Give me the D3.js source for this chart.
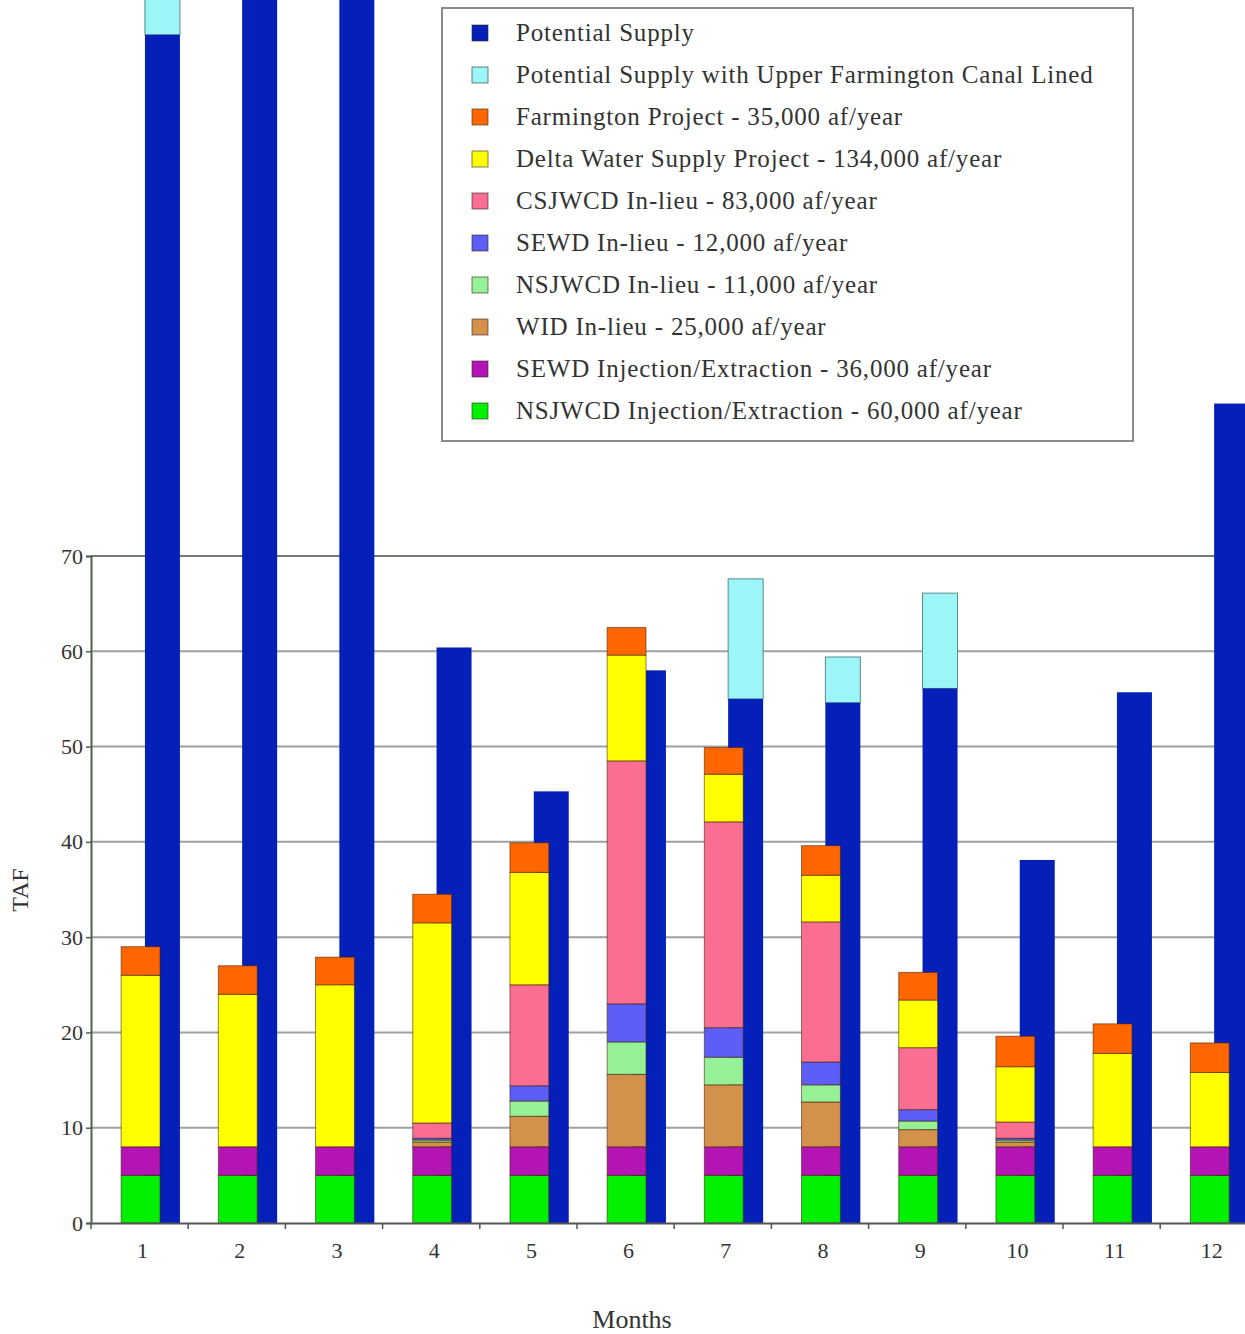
<!DOCTYPE html>
<html>
<head>
<meta charset="utf-8">
<script src="https://cdn.jsdelivr.net/npm/d3@7"></script>
<style>
  body { margin: 0; background: #fff; }
  svg { display: block; font-family: "Liberation Serif", "Times New Roman", serif; }
</style>
</head>
<body>
<div id="chart"></div>
<script>
// months on the x axis
const months = ["1", "2", "3", "4", "5", "6", "7", "8", "9", "10", "11", "12"];

// supply bars (TAF)
const potentialSupply = [124.7, 140, 138, 60.4, 45.3, 58.0, 55.0, 54.6, 56.1, 38.1, 55.7, 86.0];
const canalLinedExtra = [8, 0, 0, 0, 0, 0, 12.6, 4.8, 10.0, 0, 0, 0];

// stacked demand series, bottom to top (TAF)
const nsjwcdInjection = [5, 5, 5, 5, 5, 5, 5, 5, 5, 5, 5, 5];
const sewdInjection   = [3, 3, 3, 3, 3, 3, 3, 3, 3, 3, 3, 3];
const widInLieu       = [0, 0, 0, 0.5, 3.2, 7.6, 6.5, 4.7, 1.8, 0.5, 0, 0];
const nsjwcdInLieu    = [0, 0, 0, 0.2, 1.6, 3.4, 2.9, 1.8, 0.9, 0.2, 0, 0];
const sewdInLieu      = [0, 0, 0, 0.2, 1.6, 4.0, 3.1, 2.4, 1.2, 0.2, 0, 0];
const csjwcdInLieu    = [0, 0, 0, 1.6, 10.6, 25.5, 21.6, 14.7, 6.5, 1.7, 0, 0];
const deltaWater      = [18, 16, 17, 21.0, 11.8, 11.1, 5.0, 4.9, 5.0, 5.8, 9.8, 7.8];
const farmington      = [3, 3, 2.9, 3.0, 3.1, 2.9, 2.8, 3.1, 2.9, 3.2, 3.1, 3.1];

const yTicks = [0, 10, 20, 30, 40, 50, 60, 70];

const stackSeries = [
  { name: "NSJWCD Injection/Extraction - 60,000 af/year", values: nsjwcdInjection, color: "#00f000" },
  { name: "SEWD Injection/Extraction - 36,000 af/year", values: sewdInjection, color: "#b414b4" },
  { name: "WID In-lieu - 25,000 af/year", values: widInLieu, color: "#d4914c" },
  { name: "NSJWCD In-lieu - 11,000 af/year", values: nsjwcdInLieu, color: "#96f096" },
  { name: "SEWD In-lieu - 12,000 af/year", values: sewdInLieu, color: "#5e5ef6" },
  { name: "CSJWCD In-lieu - 83,000 af/year", values: csjwcdInLieu, color: "#fa6e92" },
  { name: "Delta Water Supply Project - 134,000 af/year", values: deltaWater, color: "#ffff00" },
  { name: "Farmington Project - 35,000 af/year", values: farmington, color: "#ff6600" }
];

const supplyColor = "#0520b8";
const linedColor = "#9cf6f8";

const legendItems = [
  { name: "Potential Supply", color: supplyColor },
  { name: "Potential Supply with Upper Farmington Canal Lined", color: linedColor }
].concat(stackSeries.slice().reverse());

const W = 1245, H = 1334;
const svg = d3.select("#chart").append("svg")
  .attr("width", W)
  .attr("height", H);

// scales
const x = d3.scaleBand().domain(months).range([91, 1257.4]).padding(0);
const y = d3.scaleLinear().domain([0, 70]).range([1223, 556]);
const bw = x.bandwidth();

svg.append("defs").append("clipPath").attr("id", "plotclip")
  .append("rect").attr("x", 91).attr("y", 0).attr("width", W - 91).attr("height", 1223);

// gridlines
svg.append("g")
  .selectAll("line")
  .data(yTicks.filter(d => d > 0))
  .join("line")
  .attr("x1", 91).attr("x2", W)
  .attr("y1", d => y(d)).attr("y2", d => y(d))
  .attr("stroke", d => d === 70 ? "#707a70" : "#a0a0a0")
  .attr("stroke-width", 2);

const plot = svg.append("g").attr("clip-path", "url(#plotclip)");

// potential supply (behind)
const supplyData = months.map((m, i) => ({ m, base: potentialSupply[i], extra: canalLinedExtra[i] }));

plot.selectAll(".lined")
  .data(supplyData.filter(d => d.extra > 0))
  .join("rect")
  .attr("class", "lined")
  .attr("x", d => x(d.m) + bw * 0.555)
  .attr("width", bw * 0.36)
  .attr("y", d => y(d.base + d.extra))
  .attr("height", d => y(d.base) - y(d.base + d.extra))
  .attr("fill", linedColor)
  .attr("stroke", "#5a8a8a")
  .attr("stroke-width", 1);

plot.selectAll(".supply")
  .data(supplyData)
  .join("rect")
  .attr("class", "supply")
  .attr("x", d => x(d.m) + bw * 0.555)
  .attr("width", bw * 0.36)
  .attr("y", d => y(d.base))
  .attr("height", d => y(0) - y(d.base))
  .attr("fill", supplyColor);

// stacked demand bars (front)
const table = months.map((m, i) => {
  const row = { m };
  stackSeries.forEach((s, k) => { row["s" + k] = s.values[i]; });
  return row;
});
const stacked = d3.stack().keys(stackSeries.map((s, k) => "s" + k))(table);

plot.selectAll(".layer")
  .data(stacked)
  .join("g")
  .attr("class", "layer")
  .attr("fill", (d, k) => stackSeries[k].color)
  .selectAll("rect")
  .data(d => d.filter(p => p[1] - p[0] > 0))
  .join("rect")
  .attr("x", d => x(d.data.m) + bw * 0.31)
  .attr("width", bw * 0.40)
  .attr("y", d => y(d[1]))
  .attr("height", d => y(d[0]) - y(d[1]))
  .attr("stroke", "rgba(60,30,0,0.55)")
  .attr("stroke-width", 1);

// y axis
const yAxis = svg.append("g")
  .attr("transform", "translate(91,0)")
  .call(d3.axisLeft(y).tickValues(yTicks).tickSize(5).tickPadding(3).tickFormat(d3.format("d")));
yAxis.select(".domain").attr("stroke", "#506050").attr("stroke-width", 2);
yAxis.selectAll(".tick line").attr("stroke", "#506050").attr("stroke-width", 1.5);
yAxis.selectAll("text").attr("font-size", 22).attr("fill", "#333").attr("font-family", "Liberation Serif");

// x axis
const xAxis = svg.append("g")
  .attr("transform", "translate(0,1223)")
  .call(d3.axisBottom(x).tickSize(0).tickPadding(19));
xAxis.select(".domain").attr("stroke", "#555").attr("stroke-width", 2);
xAxis.selectAll(".tick text").attr("dx", 3);
xAxis.selectAll("text").attr("font-size", 22).attr("fill", "#333").attr("font-family", "Liberation Serif");

// tick marks between months
svg.append("g")
  .selectAll("line")
  .data(months.map(m => x(m)))
  .join("line")
  .attr("x1", d => d).attr("x2", d => d)
  .attr("y1", 1223).attr("y2", 1229)
  .attr("stroke", "#555").attr("stroke-width", 1.5);

// axis titles
svg.append("text")
  .attr("transform", "translate(28,890) rotate(-90)")
  .attr("text-anchor", "middle")
  .attr("font-size", 24)
  .attr("fill", "#333")
  .text("TAF");

svg.append("text")
  .attr("x", 632).attr("y", 1328)
  .attr("text-anchor", "middle")
  .attr("font-size", 26)
  .attr("fill", "#333")
  .text("Months");

// legend
const legend = svg.append("g");
legend.append("rect")
  .attr("x", 442).attr("y", 8)
  .attr("width", 691).attr("height", 433)
  .attr("fill", "#fff")
  .attr("stroke", "#8a8a8a")
  .attr("stroke-width", 2);

const rows = legend.selectAll(".item")
  .data(legendItems)
  .join("g")
  .attr("class", "item")
  .attr("transform", (d, i) => `translate(0,${33 + i * 42})`);

rows.append("rect")
  .attr("x", 472).attr("y", -8)
  .attr("width", 16).attr("height", 16)
  .attr("fill", d => d.color)
  .attr("stroke", "rgba(40,40,40,0.6)")
  .attr("stroke-width", 1);

rows.append("text")
  .attr("x", 516).attr("y", 8)
  .attr("font-size", 25)
  .attr("letter-spacing", 0.8)
  .attr("fill", "#333")
  .text(d => d.name);
</script>
</body>
</html>
